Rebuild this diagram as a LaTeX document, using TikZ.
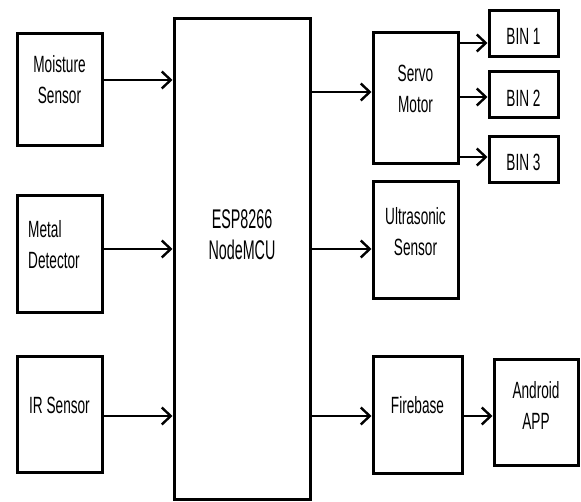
\documentclass[tikz,border=0pt]{standalone}
\usepackage{fontspec}
\setmainfont[FakeStretch=0.58]{Liberation Sans}
\newfontfamily\espfont[FakeStretch=0.53]{Liberation Sans}
\usetikzlibrary{arrows.meta}
\tikzset{
  blk/.style={draw, line width=3pt, minimum width=85pt, inner sep=0pt},
  txt/.style={align=center, font=\fontsize{23.5}{31}\selectfont},
  flow/.style={-{Straight Barb[length=9pt,width=17pt]}, line width=2.4pt},
}
\begin{document}
\begin{tikzpicture}[x=1pt, y=-1pt]
  \useasboundingbox (0,0) rectangle (581,502);
  % controller
  \node[blk, minimum width=136pt, minimum height=480pt,
        label={[txt, font=\espfont\fontsize{27}{31}\selectfont, yshift=24pt]center:ESP8266\\NodeMCU}] (esp) at (242,259) {};

  % sensors on the left
  \node[blk, minimum height=112pt, label={[txt, yshift=10pt]center:Moisture\\Sensor}] (moist) at (59.5,90) {};
  \node[blk, minimum height=117pt, label={[txt, align=left, xshift=-5.5pt, yshift=9.5pt]center:Metal\\Detector}] (metal) at (59.5,254.5) {};
  \node[blk, minimum height=115pt, label={[txt, yshift=9.5pt]center:IR Sensor}] (ir) at (59.5,414.5) {};

  % outputs on the right
  \node[blk, minimum height=131pt, label={[txt, yshift=9.5pt]center:Servo\\Motor}] (servo) at (415.5,98.5) {};
  \node[blk, minimum height=117pt, label={[txt, yshift=8.5pt]center:Ultrasonic\\Sensor}] (ultra) at (415.5,240.5) {};
  \node[blk, minimum width=89pt, minimum height=116pt, label={[txt, yshift=10pt]center:Firebase}] (fire) at (417.5,415) {};
  \node[blk, minimum width=84pt, minimum height=105pt, label={[txt, yshift=7pt]center:Android\\APP}] (app) at (536,412.5) {};

  \draw[flow] (moist.east |- 0,80) -- (esp.west |- 0,80);
  \draw[flow] (metal.east |- 0,249) -- (esp.west |- 0,249);
  \draw[flow] (ir.east |- 0,416) -- (esp.west |- 0,416);
  \draw[flow] (esp.east |- 0,92) -- (servo.west |- 0,92);
  \draw[flow] (esp.east |- 0,249) -- (ultra.west |- 0,249);
  \draw[flow] (esp.east |- 0,416) -- (fire.west |- 0,416);
  \draw[flow] (fire.east |- 0,416) -- (app.west |- 0,416);

  % bins
  \foreach \i/\y/\a in {1/33.5/43, 2/95/97, 3/159.5/157} {
    \node[blk, minimum width=69pt, minimum height=46pt, label={[txt, yshift=-3pt]center:BIN \i}] (bin\i) at (523.5,\y) {};
    \draw[flow] (servo.east |- 0,\a) -- (bin\i.west |- 0,\a);
  }
\end{tikzpicture}
\end{document}
